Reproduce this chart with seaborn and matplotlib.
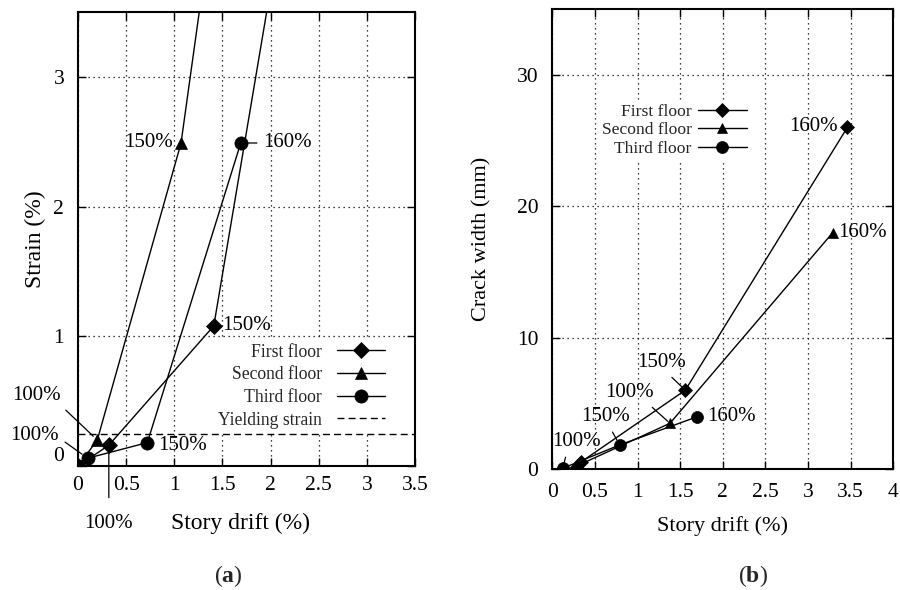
import matplotlib
matplotlib.use("Agg")
import matplotlib.pyplot as plt
import seaborn as sns

# ---- Panel (a): strain vs story drift ----
strain_drift_first = [0.0, 0.32, 1.41, 2.30]
strain_first = [0.0, 0.16, 1.08, 5.00]
strain_drift_second = [0.0, 0.20, 1.07, 1.54]
strain_second = [0.0, 0.20, 2.49, 5.00]
strain_drift_third = [0.0, 0.10, 0.72, 1.69]
strain_third = [0.0, 0.06, 0.18, 2.49]
yield_strain = 0.25

# ---- Panel (b): crack width vs story drift ----
crack_drift_first = [0.27, 0.34, 1.56, 3.46]
crack_first = [0.0, 0.55, 6.0, 26.0]
crack_drift_second = [0.27, 0.31, 1.38, 3.29]
crack_second = [0.0, 0.30, 3.48, 18.0]
crack_drift_third = [0.12, 0.79, 1.70]
crack_third = [0.05, 1.83, 3.98]

floor_names = ["First floor", "Second floor", "Third floor"]
yield_name = "Yielding strain"

xticks_a = [0, 0.5, 1, 1.5, 2, 2.5, 3, 3.5]
yticks_a = [0, 1, 2, 3]
xticks_b = [0, 0.5, 1, 1.5, 2, 2.5, 3, 3.5, 4]
yticks_b = [0, 10, 20, 30]

sns.set_theme(style="white")
plt.rcParams["font.family"] = ["Liberation Serif", "DejaVu Serif"]
plt.rcParams["mathtext.fontset"] = "custom"
plt.rcParams["mathtext.rm"] = "Liberation Serif"
plt.rcParams["mathtext.bf"] = "Liberation Serif:bold"

fig = plt.figure(figsize=(9, 5.9), dpi=100)
ax1 = fig.add_axes([0.0867, 0.2102, 0.3744, 0.7695])
ax2 = fig.add_axes([0.6137, 0.2051, 0.3789, 0.7792])


def style_axes(ax, xlim, ylim, xticks, yticks, xpad, ypad):
    ax.set_xlim(*xlim)
    ax.set_ylim(*ylim)
    ax.set_xticks(xticks)
    ax.set_yticks(yticks)
    ax.set_xticklabels([f"{t:g}" for t in xticks])
    ax.set_yticklabels([f"{t:g}" for t in yticks])
    ax.grid(True, color="black", linestyle=(0, (1, 3)), linewidth=0.9)
    ax.tick_params(direction="in", top=True, right=True, bottom=True, left=True,
                   length=6, width=1, colors="black", labelsize=15.5)
    ax.tick_params(axis="x", pad=xpad)
    ax.tick_params(axis="y", pad=ypad)
    for s in ax.spines.values():
        s.set_color("black")
        s.set_linewidth(1.5)
    ax.set_axisbelow(True)


def draw_series(ax, x, y, name, marker, ms):
    sns.lineplot(x=x, y=y, ax=ax, color="black", marker=marker, markersize=ms,
                 markeredgecolor="black", markeredgewidth=0.5, linewidth=1.0,
                 sort=False, estimator=None, label=name)


def note(ax, text, xy, offset, ha="center", va="center", leader=False,
         relpos=(0.5, 0.5), shrinkA=0, shrinkB=0):
    kw = {}
    if leader:
        kw["arrowprops"] = dict(arrowstyle="-", color="black", lw=0.9,
                                relpos=relpos, shrinkA=shrinkA, shrinkB=shrinkB)
    ax.annotate(text, xy=xy, xytext=offset, textcoords="offset points",
                ha=ha, va=va, fontsize=15, color="black",
                annotation_clip=False, **kw)


# ---------- (a) ----------
style_axes(ax1, (0, 3.5), (0, 3.5), xticks_a, yticks_a, xpad=7, ypad=10)
draw_series(ax1, strain_drift_first, strain_first, floor_names[0], "D", 7.8)
draw_series(ax1, strain_drift_second, strain_second, floor_names[1], "^", 8.5)
draw_series(ax1, strain_drift_third, strain_third, floor_names[2], "o", 9.5)
ax1.axhline(yield_strain, color="black", linestyle=(0, (5, 3)), linewidth=1.0,
            label=yield_name)
ax1.yaxis.get_major_ticks()[0].label1.set_verticalalignment("bottom")

ax1.legend(loc="center", bbox_to_anchor=(0.663, 0.176), markerfirst=False,
           frameon=True, fancybox=False, edgecolor="none", facecolor="white",
           framealpha=1, fontsize=12.7, handlelength=2.7, handletextpad=0.85,
           labelspacing=0.32, borderpad=0.2, borderaxespad=0)

note(ax1, "100%", (strain_drift_second[1], strain_second[1]), (-44, 32),
     leader=True, relpos=(1, 0), shrinkA=2, shrinkB=4)
note(ax1, "100%", (strain_drift_third[1], strain_third[1]), (-38.6, 16.4),
     leader=True, relpos=(1, 0.4), shrinkA=3, shrinkB=5)
note(ax1, "100%", (strain_drift_first[1], strain_first[1]), (0, -56),
     leader=True, relpos=(0.5, 1), shrinkA=9, shrinkB=3)
note(ax1, "150%", (strain_drift_second[2], strain_second[2]), (-5.8, 0), ha="right")
note(ax1, "160%", (strain_drift_third[3], strain_third[3]), (16, 0), ha="left",
     leader=True, relpos=(0, 0.5), shrinkA=2, shrinkB=5)
note(ax1, "150%", (strain_drift_first[2], strain_first[2]), (5.8, 0), ha="left")
note(ax1, "150%", (strain_drift_third[2], strain_third[2]), (7.7, -2.2), ha="left")

ax1.set_xlabel("Story drift (%)", fontsize=17, color="black")
ax1.xaxis.set_label_coords(0.481, -0.126)
ax1.xaxis.label.set_verticalalignment("center")
ax1.set_ylabel("Strain (%)", fontsize=17, color="black")
ax1.yaxis.set_label_coords(-0.1276, 0.5)
ax1.yaxis.label.set_verticalalignment("center")

# ---------- (b) ----------
style_axes(ax2, (0, 4), (0, 35), xticks_b, yticks_b, xpad=10, ypad=10)
draw_series(ax2, crack_drift_first, crack_first, floor_names[0], "D", 7.2)
draw_series(ax2, crack_drift_second, crack_second, floor_names[1], "^", 7.5)
draw_series(ax2, crack_drift_third, crack_third, floor_names[2], "o", 8.6)

ax2.legend(loc="center", bbox_to_anchor=(0.358, 0.737), markerfirst=False,
           frameon=True, fancybox=False, edgecolor="none", facecolor="white",
           framealpha=1, fontsize=12.6, handlelength=2.8, handletextpad=0.35,
           labelspacing=0.12, borderpad=0.2, borderaxespad=0)

note(ax2, "100%", (crack_drift_third[0], crack_third[0]), (9.7, 19.2),
     leader=True, relpos=(0.32, 0), shrinkA=2, shrinkB=4)
note(ax2, "150%", (crack_drift_third[1], crack_third[1]), (-9.9, 20.2),
     leader=True, relpos=(0.57, 0), shrinkA=2, shrinkB=4)
note(ax2, "100%", (crack_drift_second[2], crack_second[2]), (-29.5, 22),
     leader=True, relpos=(0.86, 0), shrinkA=2, shrinkB=2)
note(ax2, "150%", (crack_drift_first[2], crack_first[2]), (-17.1, 19.8),
     leader=True, relpos=(0.6, 0), shrinkA=2, shrinkB=3)
note(ax2, "160%", (crack_drift_third[2], crack_third[2]), (6.8, 0), ha="left")
note(ax2, "160%", (crack_drift_first[3], crack_first[3]), (-6.7, 1), ha="right")
note(ax2, "160%", (crack_drift_second[3], crack_second[3]), (4, 0), ha="left")

ax2.set_xlabel("Story drift (%)", fontsize=16, color="black")
ax2.xaxis.set_label_coords(0.5, -0.124)
ax2.xaxis.label.set_verticalalignment("center")
ax2.set_ylabel("Crack width (mm)", fontsize=16, color="black")
ax2.yaxis.set_label_coords(-0.207, 0.5)
ax2.yaxis.label.set_verticalalignment("center")

# Panel captions
fig.text(0.2533, 0.0237, r"($\mathbf{a}$)", ha="center", va="center", fontsize=17)
fig.text(0.8367, 0.0237, r"($\mathbf{b}$)", ha="center", va="center", fontsize=17)

fig.savefig("out.png", dpi=100, facecolor="white")
